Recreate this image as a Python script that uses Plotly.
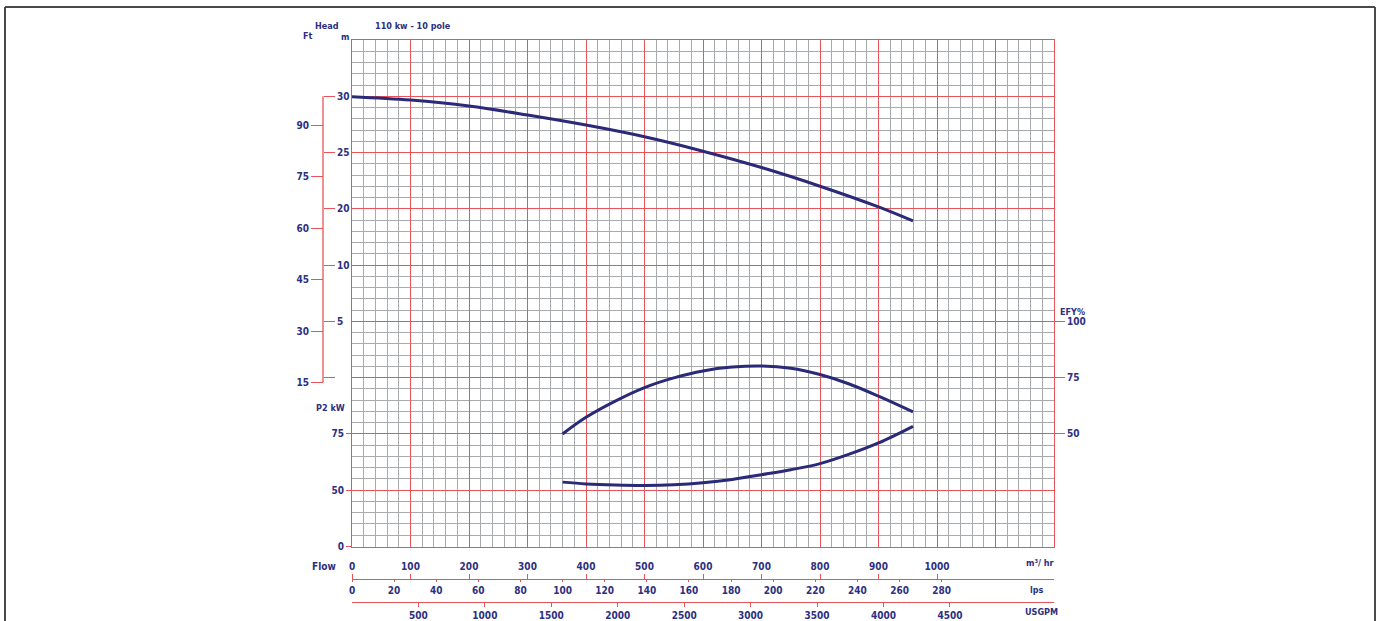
import plotly.graph_objects as go

# ---------------- data ----------------
flow_head = [0, 100, 200, 300, 400, 500, 600, 700, 800, 900, 959]
head_m = [29.96, 29.66, 29.13, 28.33, 27.44, 26.40, 25.12, 23.67, 22.01, 20.17, 18.92]

flow_eff = [360, 400, 450, 500, 550, 600, 650, 700, 750, 800, 850, 900, 959]
eff_pct = [50.0, 57.4, 64.6, 70.6, 74.9, 78.0, 79.7, 80.2, 79.2, 76.4, 72.2, 66.8, 59.8]

flow_p2 = [360, 400, 450, 500, 550, 600, 650, 700, 750, 800, 850, 900, 959]
p2_kw = [53.6, 52.8, 52.3, 52.1, 52.4, 53.3, 54.8, 56.9, 59.1, 61.8, 66.0, 71.0, 78.4]

m3hr_ticks = [0, 100, 200, 300, 400, 500, 600, 700, 800, 900, 1000]
lps_ticks = [0, 20, 40, 60, 80, 100, 120, 140, 160, 180, 200, 220, 240, 260, 280]
usgpm_ticks = [500, 1000, 1500, 2000, 2500, 3000, 3500, 4000, 4500]
head_m_tickvals = [30, 25, 20, 15, 10, 5]
head_m_ticktext = ["30", "25", "20", "10", "5", ""]
head_ft_ticks = [15, 30, 45, 60, 75, 90]
p2_tickvals = [25, 50, 75]
p2_ticktext = ["0", "50", "75"]
eff_ticks = [50, 75, 100]

# ---------------- geometry helpers ----------------
W, H = 1379, 621
def fx(px):
    return px / W
def fy(py):
    return 1 - py / H

GX0, GX1 = 352, 1054     # grid left/right pixels
GY0, GY1 = 40, 546.5     # grid top/bottom pixels
FLOW_RANGE = [0, 1200]
M_RANGE = [-10, 35]
BR_M = [4.56, 30.0]      # extent of head bracket line (m)
FT = 3.28084
LPS = 1 / 3.6
GPM = 4.40287
P2_RANGE = [75 + 5 * M_RANGE[0], 75 + 5 * M_RANGE[1]]
EFF_RANGE = [50 + 5 * M_RANGE[0], 50 + 5 * M_RANGE[1]]

RED = "#e8545a"
MINOR = "#a8abad"
NAVY = "#2d2f80"
CURVE = "#2b2a78"
FONT = "Liberation Sans Narrow, DejaVu Sans Condensed, Arial Narrow, sans-serif"
tf = dict(family=FONT, size=10, color=NAVY, weight=700)

fig = go.Figure()
fig.add_trace(go.Scatter(x=flow_head, y=head_m, mode="lines", line=dict(color=CURVE, width=3, shape="spline"),
                         xaxis="x", yaxis="y", hoverinfo="skip", showlegend=False))
fig.add_trace(go.Scatter(x=flow_eff, y=eff_pct, mode="lines", line=dict(color=CURVE, width=3, shape="spline"),
                         xaxis="x", yaxis="y5", hoverinfo="skip", showlegend=False))
fig.add_trace(go.Scatter(x=flow_p2, y=p2_kw, mode="lines", line=dict(color=CURVE, width=3, shape="spline"),
                         xaxis="x", yaxis="y4", hoverinfo="skip", showlegend=False))

# invisible carrier traces so the secondary scales are drawn
def carrier(xs, xa, ya):
    fig.add_trace(go.Scatter(x=xs, y=[None] * len(xs), mode="lines", xaxis=xa, yaxis=ya,
                             hoverinfo="skip", showlegend=False, line=dict(width=0)))
carrier(m3hr_ticks, "x2", "y")
carrier(lps_ticks, "x3", "y")
carrier(usgpm_ticks, "x4", "y")
fig.add_trace(go.Scatter(x=[None] * len(head_m_tickvals), y=head_m_tickvals, mode="lines", xaxis="x", yaxis="y2",
                         hoverinfo="skip", showlegend=False, line=dict(width=0)))
fig.add_trace(go.Scatter(x=[None] * len(head_ft_ticks), y=head_ft_ticks, mode="lines", xaxis="x", yaxis="y3",
                         hoverinfo="skip", showlegend=False, line=dict(width=0)))

xdom = [fx(GX0), fx(GX1)]
ydom = [fy(GY1), fy(GY0)]

fig.update_layout(
    width=W, height=H, margin=dict(l=0, r=0, t=0, b=0),
    paper_bgcolor="white", plot_bgcolor="white", showlegend=False,
    xaxis=dict(domain=xdom, range=FLOW_RANGE, anchor="y", dtick=100, tick0=0,
               showgrid=True, gridcolor=RED, gridwidth=1.4, showticklabels=False, ticks="",
               showline=True, linecolor=RED, linewidth=1.4, mirror=True, zeroline=False,
               minor=dict(dtick=20, showgrid=True, gridcolor=MINOR, gridwidth=1), automargin=False),
    yaxis=dict(domain=ydom, range=M_RANGE, anchor="x", dtick=5, tick0=0,
               showgrid=True, gridcolor=RED, gridwidth=1.4, showticklabels=False, ticks="",
               showline=True, linecolor=RED, linewidth=1.4, mirror=True, zeroline=False,
               minor=dict(dtick=1, showgrid=True, gridcolor=MINOR, gridwidth=1), automargin=False),
    # m3/hr axis
    xaxis2=dict(domain=xdom, range=FLOW_RANGE, overlaying="x", anchor="free", position=fy(579), side="top",
                tickmode="array", tickvals=m3hr_ticks, ticks="outside", ticklen=5, tickcolor=RED, tickwidth=1.3,
                showline=True, linecolor=RED, linewidth=1.3, showgrid=False, zeroline=False,
                tickfont=tf, automargin=False),
    # lps axis
    xaxis3=dict(domain=xdom, range=[FLOW_RANGE[0] * LPS, FLOW_RANGE[1] * LPS], overlaying="x", anchor="free",
                position=fy(579), side="bottom", tickmode="array", tickvals=lps_ticks, ticks="outside", ticklen=2,
                tickcolor=RED, tickwidth=1.3, showline=False, showgrid=False, zeroline=False,
                tickfont=tf, automargin=False),
    # USGPM axis
    xaxis4=dict(domain=xdom, range=[FLOW_RANGE[0] * GPM, FLOW_RANGE[1] * GPM], overlaying="x", anchor="free",
                position=fy(602), side="bottom", tickmode="array", tickvals=usgpm_ticks, ticks="outside", ticklen=4,
                tickcolor=RED, tickwidth=1.3, showline=True, linecolor=RED, linewidth=1.3, showgrid=False,
                zeroline=False, tickfont=tf, automargin=False),
    # Head m labels (right of bracket line)
    yaxis2=dict(range=M_RANGE, overlaying="y", anchor="free", position=fx(323), side="right",
                tickmode="array", tickvals=head_m_tickvals, ticktext=head_m_ticktext,
                ticks="outside", ticklen=11, tickcolor=RED, tickwidth=1.3,
                showline=False, showgrid=False, zeroline=False, tickfont=tf, automargin=False),
    # Head ft labels (left of bracket line)
    yaxis3=dict(range=[M_RANGE[0] * FT, M_RANGE[1] * FT], overlaying="y", anchor="free", position=fx(323),
                side="left", tickmode="array", tickvals=head_ft_ticks,
                ticks="outside", ticklen=12, tickcolor=RED, tickwidth=1.3,
                showline=False, showgrid=False, zeroline=False, tickfont=tf, automargin=False),
    # P2 kW
    yaxis4=dict(range=P2_RANGE, anchor="x", overlaying="y", side="left",
                tickmode="array", tickvals=p2_tickvals, ticktext=p2_ticktext,
                ticks="outside", ticklen=5, tickcolor=RED, tickwidth=1.3,
                showline=False, showgrid=False, zeroline=False, tickfont=tf, automargin=False),
    # Efficiency
    yaxis5=dict(range=EFF_RANGE, anchor="x", overlaying="y", side="right",
                tickmode="array", tickvals=eff_ticks,
                ticks="outside", ticklen=10, tickcolor=RED, tickwidth=1.3,
                showline=False, showgrid=False, zeroline=False, tickfont=tf, automargin=False),
)

# bracket line for head scales
fig.add_shape(type="line", xref="paper", yref="y", x0=fx(323), x1=fx(323), y0=BR_M[0], y1=BR_M[1],
              line=dict(color=RED, width=1.3))

def label(text, px, py, size=9, xanchor="center"):
    fig.add_annotation(text=text, x=fx(px), y=fy(py), xref="paper", yref="paper", showarrow=False,
                       xanchor=xanchor, yanchor="middle", font=dict(family=FONT, size=size, color=NAVY, weight=700))

label("Head", 327, 26)
label("Ft", 308, 36)
label("m", 345, 37)
label("110 kw - 10 pole", 413, 26)
label("P2 kW", 330, 408)
label("EFY%", 1072, 312)
label("Flow", 324, 566, 10)
label("m³/ hr", 1040, 563)
label("lps", 1037, 590)
label("USGPM", 1041, 612)

# outer frame
FRAME = "#4a4a4a"
fig.add_shape(type="line", xref="paper", yref="paper", x0=fx(5), x1=fx(1375), y0=fy(7), y1=fy(7),
              line=dict(color=FRAME, width=2))
fig.add_shape(type="line", xref="paper", yref="paper", x0=fx(5), x1=fx(5), y0=fy(7), y1=0,
              line=dict(color=FRAME, width=2))
fig.add_shape(type="line", xref="paper", yref="paper", x0=fx(1375), x1=fx(1375), y0=fy(7), y1=0,
              line=dict(color=FRAME, width=2))

fig.write_html("out.html", config={"displayModeBar": False},
               post_script="document.body.style.margin='0';document.body.style.overflow='hidden';")
